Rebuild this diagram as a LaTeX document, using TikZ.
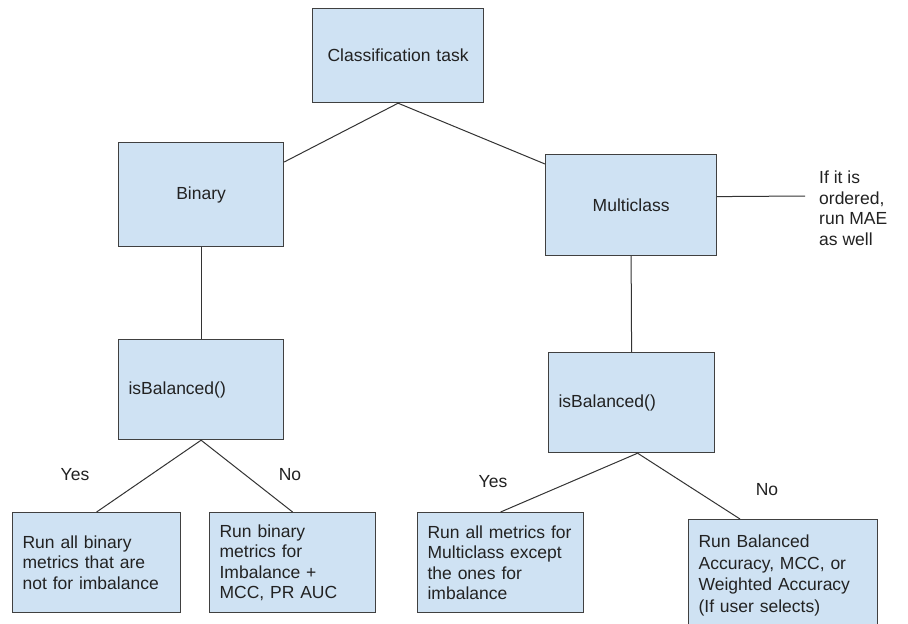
\documentclass[tikz,border=0pt]{standalone}
\usepackage{fontspec}
\setmainfont{Liberation Sans}
\definecolor{boxfill}{HTML}{CFE2F3}
\definecolor{boxdraw}{HTML}{404040}
\definecolor{txt}{HTML}{222222}
\definecolor{linecol}{HTML}{333333}
\begin{document}
\begin{tikzpicture}[x=1pt,y=-1pt,
  every node/.style={font=\fontsize{17.5}{20.5}\selectfont, text=txt},
  box/.style={draw=boxdraw, fill=boxfill, line width=1.2pt, anchor=north west,
              inner xsep=10pt, inner ysep=0pt},
  conn/.style={draw=linecol, line width=1pt},
  lbl/.style={inner sep=0pt}]
\useasboundingbox (0,0) rectangle (908,624);
\fill[white] (0,0) rectangle (908,624);
\clip (0,0) rectangle (908,624);

% boxes
\node[box, text width=151pt, minimum height=94pt, align=center] (ct) at (312,8) {Classification task};
\node[box, text width=145pt, minimum height=104pt, align=center] (bin) at (118,142) {Binary};
\node[box, text width=151pt, minimum height=101pt, align=center] (mc) at (545,154) {Multiclass};
\node[box, text width=145pt, minimum height=100pt, align=left] (ibl) at (118,339) {isBalanced()};
\node[box, text width=146pt, minimum height=100pt, align=left] (ibr) at (548,352) {isBalanced()};
\node[box, text width=148pt, minimum height=100pt, align=left] (ba) at (12,512)
  {Run all binary\\metrics that are\\not for imbalance};
\node[box, text width=146pt, minimum height=100pt, align=left] (bb) at (209,512)
  {Run binary\\metrics for\\Imbalance +\\MCC, PR AUC};
\node[box, text width=146pt, minimum height=100pt, align=left] (ra) at (417,512)
  {Run all metrics for\\Multiclass except\\the ones for\\imbalance};
\node[box, text width=169pt, minimum height=112pt, align=left, font=\fontsize{17.5}{21.5}\selectfont] (rb) at (688,519)
  {Run Balanced\\Accuracy, MCC, or\\Weighted Accuracy\\(If user selects)};

% side note
\node[lbl, anchor=west, align=left] (note) at (819,208) {If it is\\ordered,\\run MAE\\as well};
\coordinate (noteend) at (805,196);

% labels
\node[lbl] (yl) at (75,475) {Yes};
\node[lbl] (nl) at (290,475) {No};
\node[lbl] (yr) at (493,482) {Yes};
\node[lbl] (nr) at (767,490) {No};

% connectors
\draw[conn] (ct.south) -- ([yshift=-20pt]bin.north east);
\draw[conn] (ct.south) -- ([yshift=-10pt]mc.north west);
\draw[conn] (bin.south) -- (ibl.north);
\draw[conn] (mc.south) -- (ibr.north);
\draw[conn] ([yshift=8.5pt]mc.east) -- (noteend);
\draw[conn] (ibl.south) -- (ba.north);
\draw[conn] (ibl.south) -- (bb.north);
\draw[conn] ([xshift=6pt]ibr.south) -- (ra.north);
\draw[conn] ([xshift=6pt]ibr.south) -- ([xshift=52pt]rb.north west);
\end{tikzpicture}
\end{document}
